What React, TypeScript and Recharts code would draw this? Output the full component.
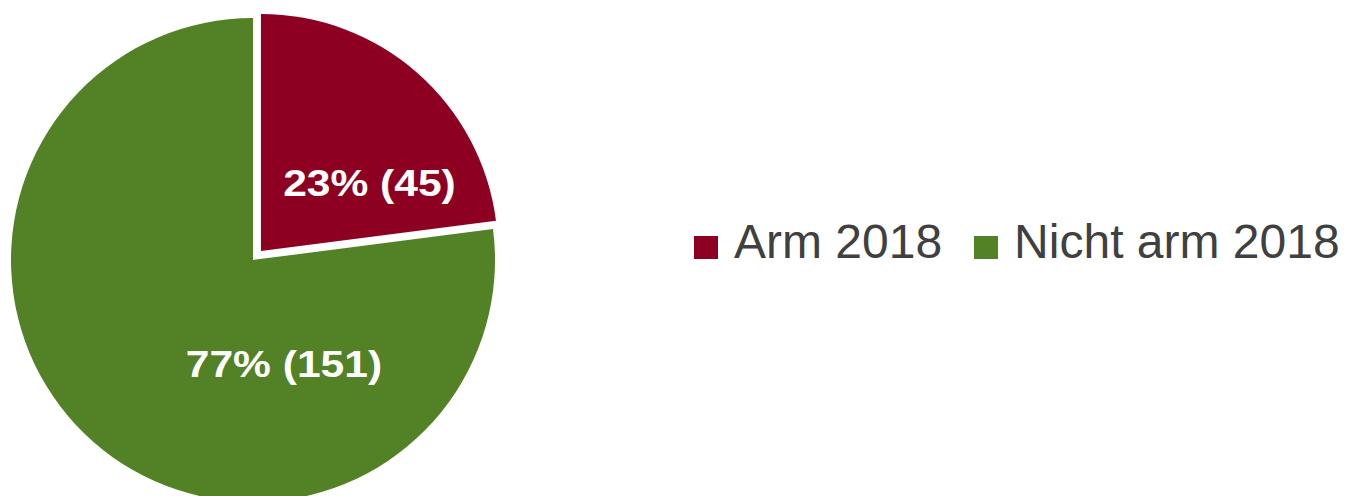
import React from "react";
import { PieChart, Pie, Cell, Legend } from "recharts";

const categories = ["Arm 2018", "Nicht arm 2018"];
const counts = [45, 151];
const colors = ["#8E0022", "#538126"];

const data = categories.map((name, i) => ({ name, value: counts[i] }));
const total = counts.reduce((a, b) => a + b, 0);

const CX = 253;
const CY = 260;
const RADIUS = 242;
const EXPLODE = 12;

// mid angle of the first (exploded) slice, clockwise from 12 o'clock
const redMid = 90 - (counts[0] / total) * 180;
const rad = Math.PI / 180;
const redCx = CX + EXPLODE * Math.cos(redMid * rad);
const redCy = CY - EXPLODE * Math.sin(redMid * rad);

// where each label sits: angle from center, fraction of radius
const labelSpots = [
  { angle: 32, ratio: 0.54 },
  { angle: -73.5, ratio: 0.45 },
];

const makeLabel = (showIndex: number) => (props: any) => {
  const { cx, cy, outerRadius, index, value, percent } = props;
  if (index !== showIndex) return null;
  const spot = labelSpots[index];
  const x = cx + outerRadius * spot.ratio * Math.cos(spot.angle * rad);
  const y = cy - outerRadius * spot.ratio * Math.sin(spot.angle * rad);
  return (
    <text
      x={0}
      y={0}
      transform={`translate(${x},${y}) scale(1.15,1)`}
      fill="#FFFFFF"
      textAnchor="middle"
      dominantBaseline="central"
      style={{ fontFamily: "'Liberation Sans', Arial, sans-serif", fontWeight: 700, fontSize: 37 }}
    >
      {`${Math.round(percent * 100)}% (${value})`}
    </text>
  );
};

const renderLegend = () => (
  <div style={{ display: "flex", alignItems: "flex-start", fontFamily: "'Liberation Sans', Arial, sans-serif" }}>
    {categories.map((name, i) => (
      <div key={name} style={{ display: "flex", alignItems: "flex-start", marginRight: i === 0 ? 32 : 0 }}>
        <span style={{ display: "inline-block", width: 24, height: 23, marginTop: 18, marginRight: 16, background: colors[i] }} />
        <span style={{ fontSize: 48, lineHeight: "47px", color: "#404040", whiteSpace: "nowrap" }}>{name}</span>
      </div>
    ))}
  </div>
);

export default function App() {
  return (
    <div style={{ position: "absolute", left: 0, top: 0, background: "#FFFFFF" }}>
      <PieChart width={1353} height={496} margin={{ top: 0, right: 0, bottom: 0, left: 0 }}>
        <Pie
          data={data}
          dataKey="value"
          nameKey="name"
          cx={CX}
          cy={CY}
          outerRadius={RADIUS}
          startAngle={90}
          endAngle={-270}
          stroke="none"
          labelLine={false}
          label={makeLabel(1)}
          isAnimationActive={false}
        >
          {data.map((d, i) => (
            <Cell key={d.name} fill={i === 1 ? colors[1] : "transparent"} />
          ))}
        </Pie>
        <Pie
          data={data}
          dataKey="value"
          nameKey="name"
          cx={redCx}
          cy={redCy}
          outerRadius={RADIUS - 5}
          startAngle={90}
          endAngle={-270}
          stroke="none"
          labelLine={false}
          label={makeLabel(0)}
          legendType="none"
          isAnimationActive={false}
        >
          {data.map((d, i) => (
            <Cell key={d.name} fill={i === 0 ? colors[0] : "transparent"} />
          ))}
        </Pie>
        <Legend content={renderLegend} wrapperStyle={{ position: "absolute", left: 694, top: 218, width: "auto" }} />
      </PieChart>
    </div>
  );
}
